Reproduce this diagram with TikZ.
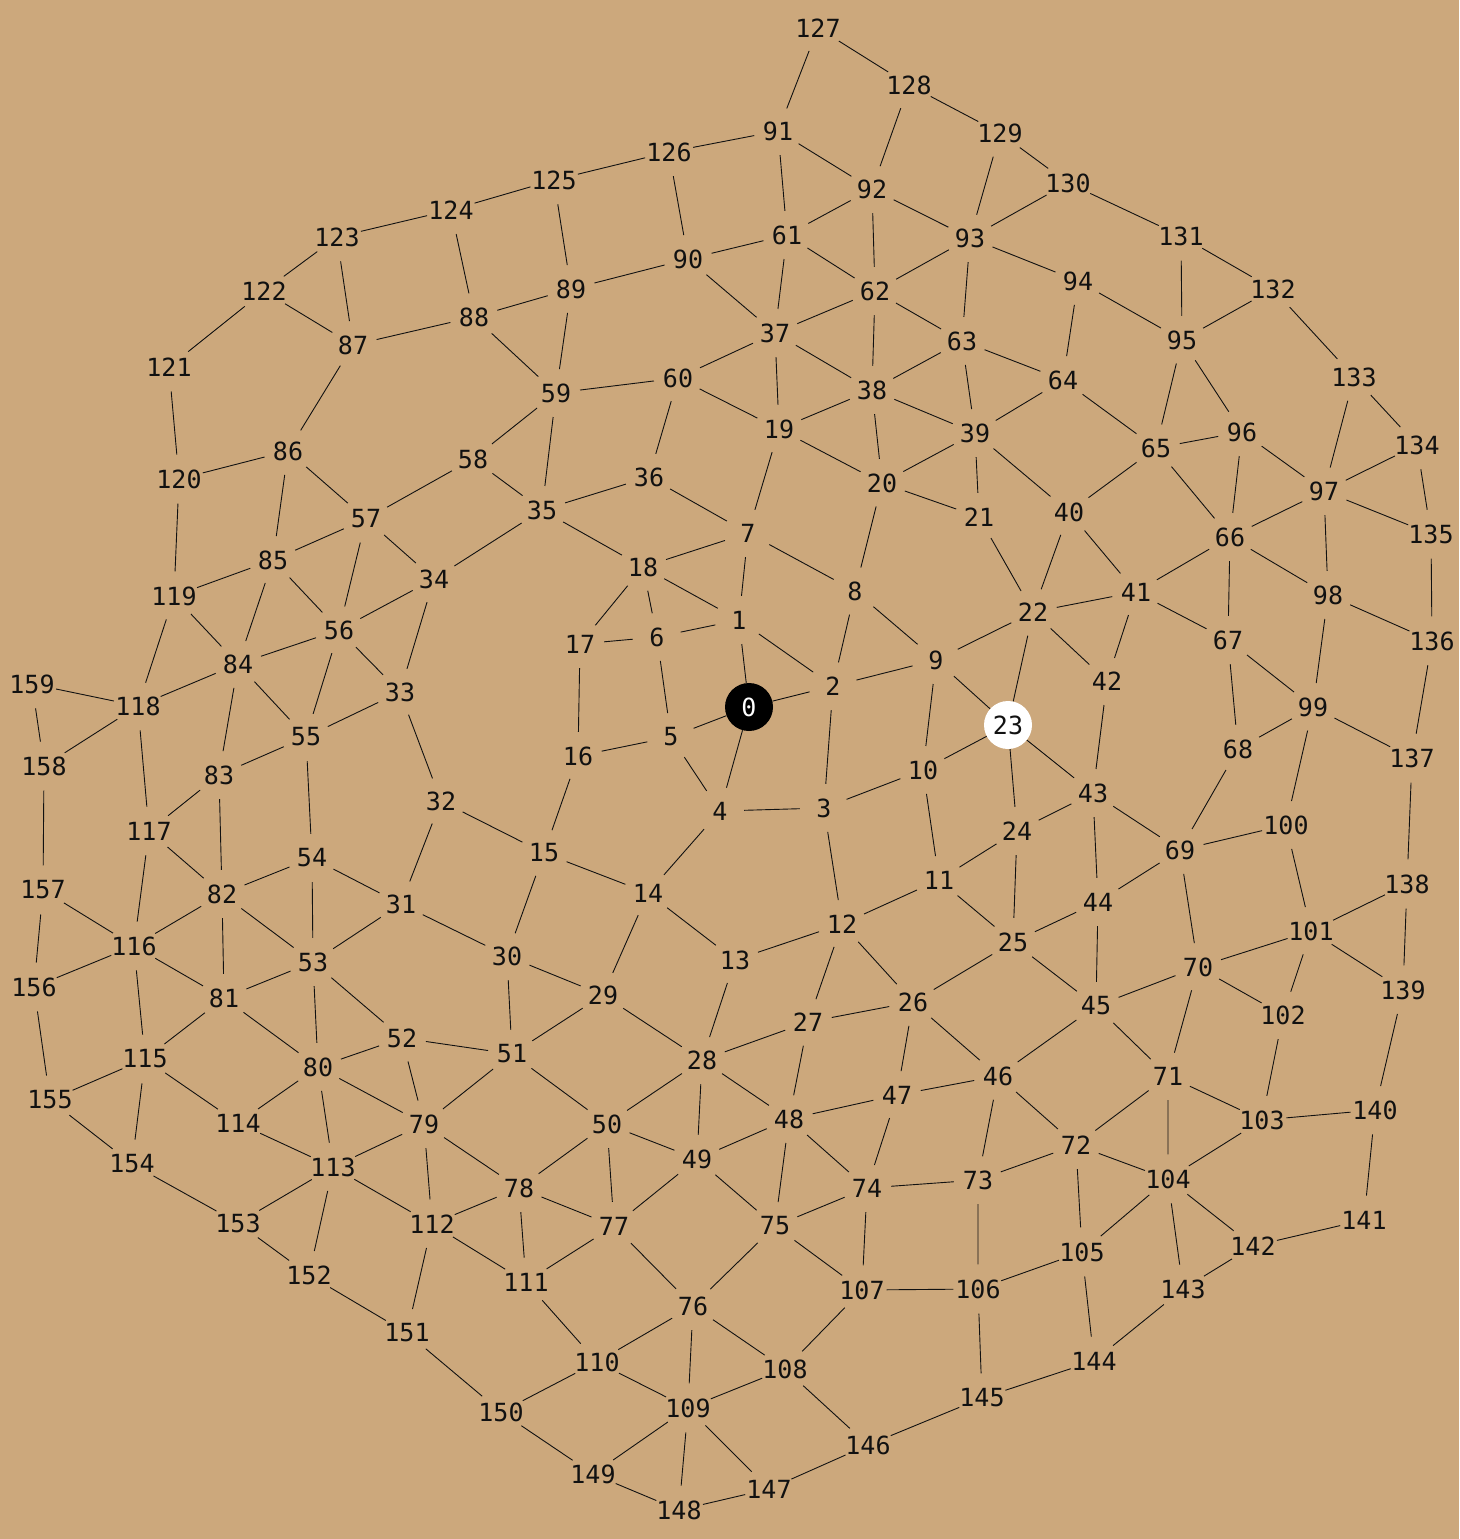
\documentclass[tikz,border=0pt]{standalone}
\usepackage{fontspec}
\usepackage{xcolor}
\usepackage{tikz}
\newfontfamily\vtxfont{DejaVu Sans Mono}
\definecolor{Tan}{HTML}{CCA87C}
\definecolor{Ink}{HTML}{111111}
\tikzset{
  vtx/.style={
    circle, minimum size=48pt, inner sep=0pt,
    text=Ink, font=\vtxfont\fontsize{25}{25}\selectfont
  },
  vtxStart/.style={vtx,fill=black,text=white},
  vtxGoal/.style={vtx,fill=white},
  link/.style={line width=.9pt,draw=Ink}
}

\begin{document}
\begin{tikzpicture}[x=1pt,y=-1pt]
  \fill[Tan] (0,0) rectangle (1459,1539);
  \useasboundingbox (0,0) rectangle (1459,1539);
  % vertices
  \node[vtxStart] (n0) at (749,707) {0};
  \node[vtx] (n1) at (739,620) {1};
  \node[vtx] (n2) at (833,686) {2};
  \node[vtx] (n3) at (824,808) {3};
  \node[vtx] (n4) at (720,811) {4};
  \node[vtx] (n5) at (671,737) {5};
  \node[vtx] (n6) at (657,637) {6};
  \node[vtx] (n7) at (748,533) {7};
  \node[vtx] (n8) at (855,591) {8};
  \node[vtx] (n9) at (936,660) {9};
  \node[vtx] (n10) at (923,770) {10};
  \node[vtx] (n11) at (939,880) {11};
  \node[vtx] (n12) at (842,924) {12};
  \node[vtx] (n13) at (735,960) {13};
  \node[vtx] (n14) at (648,893) {14};
  \node[vtx] (n15) at (544,853) {15};
  \node[vtx] (n16) at (578,756) {16};
  \node[vtx] (n17) at (580,644) {17};
  \node[vtx] (n18) at (643,567) {18};
  \node[vtx] (n19) at (779,429) {19};
  \node[vtx] (n20) at (882,483) {20};
  \node[vtx] (n21) at (979,517) {21};
  \node[vtx] (n22) at (1033,612) {22};
  \node[vtxGoal] (n23) at (1008,725) {23};
  \node[vtx] (n24) at (1017,831) {24};
  \node[vtx] (n25) at (1013,942) {25};
  \node[vtx] (n26) at (913,1002) {26};
  \node[vtx] (n27) at (808,1022) {27};
  \node[vtx] (n28) at (702,1060) {28};
  \node[vtx] (n29) at (603,995) {29};
  \node[vtx] (n30) at (507,956) {30};
  \node[vtx] (n31) at (401,904) {31};
  \node[vtx] (n32) at (441,801) {32};
  \node[vtx] (n33) at (400,692) {33};
  \node[vtx] (n34) at (434,579) {34};
  \node[vtx] (n35) at (542,510) {35};
  \node[vtx] (n36) at (649,477) {36};
  \node[vtx] (n37) at (775,333) {37};
  \node[vtx] (n38) at (872,390) {38};
  \node[vtx] (n39) at (975,433) {39};
  \node[vtx] (n40) at (1069,512) {40};
  \node[vtx] (n41) at (1136,592) {41};
  \node[vtx] (n42) at (1107,681) {42};
  \node[vtx] (n43) at (1093,793) {43};
  \node[vtx] (n44) at (1098,902) {44};
  \node[vtx] (n45) at (1096,1006) {45};
  \node[vtx] (n46) at (998,1076) {46};
  \node[vtx] (n47) at (897,1095) {47};
  \node[vtx] (n48) at (789,1119) {48};
  \node[vtx] (n49) at (697,1159) {49};
  \node[vtx] (n50) at (607,1124) {50};
  \node[vtx] (n51) at (512,1054) {51};
  \node[vtx] (n52) at (402,1038) {52};
  \node[vtx] (n53) at (313,962) {53};
  \node[vtx] (n54) at (312,858) {54};
  \node[vtx] (n55) at (306,737) {55};
  \node[vtx] (n56) at (339,630) {56};
  \node[vtx] (n57) at (366,519) {57};
  \node[vtx] (n58) at (473,459) {58};
  \node[vtx] (n59) at (556,393) {59};
  \node[vtx] (n60) at (678,378) {60};
  \node[vtx] (n61) at (787,235) {61};
  \node[vtx] (n62) at (875,291) {62};
  \node[vtx] (n63) at (962,341) {63};
  \node[vtx] (n64) at (1063,380) {64};
  \node[vtx] (n65) at (1156,448) {65};
  \node[vtx] (n66) at (1230,537) {66};
  \node[vtx] (n67) at (1228,640) {67};
  \node[vtx] (n68) at (1238,749) {68};
  \node[vtx] (n69) at (1180,850) {69};
  \node[vtx] (n70) at (1198,967) {70};
  \node[vtx] (n71) at (1168,1076) {71};
  \node[vtx] (n72) at (1076,1145) {72};
  \node[vtx] (n73) at (978,1180) {73};
  \node[vtx] (n74) at (867,1188) {74};
  \node[vtx] (n75) at (775,1226) {75};
  \node[vtx] (n76) at (693,1306) {76};
  \node[vtx] (n77) at (614,1226) {77};
  \node[vtx] (n78) at (519,1188) {78};
  \node[vtx] (n79) at (424,1124) {79};
  \node[vtx] (n80) at (318,1067) {80};
  \node[vtx] (n81) at (224,998) {81};
  \node[vtx] (n82) at (222,894) {82};
  \node[vtx] (n83) at (219,775) {83};
  \node[vtx] (n84) at (238,664) {84};
  \node[vtx] (n85) at (273,560) {85};
  \node[vtx] (n86) at (288,451) {86};
  \node[vtx] (n87) at (353,345) {87};
  \node[vtx] (n88) at (474,317) {88};
  \node[vtx] (n89) at (571,289) {89};
  \node[vtx] (n90) at (688,259) {90};
  \node[vtx] (n91) at (778,131) {91};
  \node[vtx] (n92) at (872,189) {92};
  \node[vtx] (n93) at (970,238) {93};
  \node[vtx] (n94) at (1078,281) {94};
  \node[vtx] (n95) at (1182,340) {95};
  \node[vtx] (n96) at (1242,432) {96};
  \node[vtx] (n97) at (1324,491) {97};
  \node[vtx] (n98) at (1328,595) {98};
  \node[vtx] (n99) at (1313,707) {99};
  \node[vtx] (n100) at (1286,825) {100};
  \node[vtx] (n101) at (1311,931) {101};
  \node[vtx] (n102) at (1283,1015) {102};
  \node[vtx] (n103) at (1262,1120) {103};
  \node[vtx] (n104) at (1168,1179) {104};
  \node[vtx] (n105) at (1082,1252) {105};
  \node[vtx] (n106) at (978,1289) {106};
  \node[vtx] (n107) at (862,1290) {107};
  \node[vtx] (n108) at (785,1369) {108};
  \node[vtx] (n109) at (688,1408) {109};
  \node[vtx] (n110) at (597,1362) {110};
  \node[vtx] (n111) at (526,1282) {111};
  \node[vtx] (n112) at (432,1224) {112};
  \node[vtx] (n113) at (333,1167) {113};
  \node[vtx] (n114) at (238,1123) {114};
  \node[vtx] (n115) at (145,1059) {115};
  \node[vtx] (n116) at (134,946) {116};
  \node[vtx] (n117) at (149,831) {117};
  \node[vtx] (n118) at (138,706) {118};
  \node[vtx] (n119) at (174,596) {119};
  \node[vtx] (n120) at (179,479) {120};
  \node[vtx] (n121) at (169,367) {121};
  \node[vtx] (n122) at (264,291) {122};
  \node[vtx] (n123) at (337,237) {123};
  \node[vtx] (n124) at (451,210) {124};
  \node[vtx] (n125) at (554,180) {125};
  \node[vtx] (n126) at (669,152) {126};
  \node[vtx] (n127) at (818,28) {127};
  \node[vtx] (n128) at (909,85) {128};
  \node[vtx] (n129) at (1000,133) {129};
  \node[vtx] (n130) at (1068,183) {130};
  \node[vtx] (n131) at (1181,236) {131};
  \node[vtx] (n132) at (1273,289) {132};
  \node[vtx] (n133) at (1354,377) {133};
  \node[vtx] (n134) at (1417,445) {134};
  \node[vtx] (n135) at (1431,534) {135};
  \node[vtx] (n136) at (1432,641) {136};
  \node[vtx] (n137) at (1412,758) {137};
  \node[vtx] (n138) at (1407,884) {138};
  \node[vtx] (n139) at (1403,990) {139};
  \node[vtx] (n140) at (1375,1110) {140};
  \node[vtx] (n141) at (1364,1220) {141};
  \node[vtx] (n142) at (1253,1246) {142};
  \node[vtx] (n143) at (1183,1289) {143};
  \node[vtx] (n144) at (1094,1361) {144};
  \node[vtx] (n145) at (982,1398) {145};
  \node[vtx] (n146) at (868,1445) {146};
  \node[vtx] (n147) at (769,1489) {147};
  \node[vtx] (n148) at (679,1510) {148};
  \node[vtx] (n149) at (593,1474) {149};
  \node[vtx] (n150) at (501,1412) {150};
  \node[vtx] (n151) at (407,1333) {151};
  \node[vtx] (n152) at (309,1275) {152};
  \node[vtx] (n153) at (238,1223) {153};
  \node[vtx] (n154) at (132,1164) {154};
  \node[vtx] (n155) at (50,1100) {155};
  \node[vtx] (n156) at (34,987) {156};
  \node[vtx] (n157) at (43,890) {157};
  \node[vtx] (n158) at (44,766) {158};
  \node[vtx] (n159) at (32,684) {159};
  % edges
  \draw[link] (n0)--(n1) (n0)--(n2) (n0)--(n4) (n0)--(n5);
  \draw[link] (n1)--(n2) (n1)--(n6) (n1)--(n7) (n1)--(n18);
  \draw[link] (n2)--(n3) (n2)--(n8) (n2)--(n9);
  \draw[link] (n3)--(n4) (n3)--(n10) (n3)--(n12);
  \draw[link] (n4)--(n5) (n4)--(n14);
  \draw[link] (n5)--(n6) (n5)--(n16);
  \draw[link] (n6)--(n17) (n6)--(n18);
  \draw[link] (n7)--(n8) (n7)--(n18) (n7)--(n19) (n7)--(n36);
  \draw[link] (n8)--(n9) (n8)--(n20);
  \draw[link] (n9)--(n10) (n9)--(n22) (n9)--(n23);
  \draw[link] (n10)--(n11) (n10)--(n23);
  \draw[link] (n11)--(n12) (n11)--(n24) (n11)--(n25);
  \draw[link] (n12)--(n13) (n12)--(n26) (n12)--(n27);
  \draw[link] (n13)--(n14) (n13)--(n28);
  \draw[link] (n14)--(n15) (n14)--(n29);
  \draw[link] (n15)--(n16) (n15)--(n30) (n15)--(n32);
  \draw[link] (n16)--(n17) (n17)--(n18) (n18)--(n35);
  \draw[link] (n19)--(n20) (n19)--(n37) (n19)--(n38) (n19)--(n60);
  \draw[link] (n20)--(n21) (n20)--(n38) (n20)--(n39);
  \draw[link] (n21)--(n22) (n21)--(n39);
  \draw[link] (n22)--(n23) (n22)--(n40) (n22)--(n41) (n22)--(n42);
  \draw[link] (n23)--(n24) (n23)--(n43);
  \draw[link] (n24)--(n25) (n24)--(n43);
  \draw[link] (n25)--(n26) (n25)--(n44) (n25)--(n45);
  \draw[link] (n26)--(n27) (n26)--(n46) (n26)--(n47);
  \draw[link] (n27)--(n28) (n27)--(n48);
  \draw[link] (n28)--(n29) (n28)--(n48) (n28)--(n49) (n28)--(n50);
  \draw[link] (n29)--(n30) (n29)--(n51);
  \draw[link] (n30)--(n31) (n30)--(n51);
  \draw[link] (n31)--(n32) (n31)--(n53) (n31)--(n54);
  \draw[link] (n32)--(n33);
  \draw[link] (n33)--(n34) (n33)--(n55) (n33)--(n56);
  \draw[link] (n34)--(n35) (n34)--(n56) (n34)--(n57);
  \draw[link] (n35)--(n36) (n35)--(n58) (n35)--(n59);
  \draw[link] (n36)--(n60);
  \draw[link] (n37)--(n38) (n37)--(n60) (n37)--(n61) (n37)--(n62) (n37)--(n90);
  \draw[link] (n38)--(n39) (n38)--(n62) (n38)--(n63);
  \draw[link] (n39)--(n40) (n39)--(n63) (n39)--(n64);
  \draw[link] (n40)--(n41) (n40)--(n65);
  \draw[link] (n41)--(n42) (n41)--(n66) (n41)--(n67);
  \draw[link] (n42)--(n43);
  \draw[link] (n43)--(n44) (n43)--(n69);
  \draw[link] (n44)--(n45) (n44)--(n69);
  \draw[link] (n45)--(n46) (n45)--(n70) (n45)--(n71);
  \draw[link] (n46)--(n47) (n46)--(n72) (n46)--(n73);
  \draw[link] (n47)--(n48) (n47)--(n74);
  \draw[link] (n48)--(n49) (n48)--(n74) (n48)--(n75);
  \draw[link] (n49)--(n50) (n49)--(n75) (n49)--(n77);
  \draw[link] (n50)--(n51) (n50)--(n77) (n50)--(n78);
  \draw[link] (n51)--(n52) (n51)--(n79);
  \draw[link] (n52)--(n53) (n52)--(n79) (n52)--(n80);
  \draw[link] (n53)--(n54) (n53)--(n80) (n53)--(n81) (n53)--(n82);
  \draw[link] (n54)--(n55) (n54)--(n82);
  \draw[link] (n55)--(n56) (n55)--(n83) (n55)--(n84);
  \draw[link] (n56)--(n57) (n56)--(n84) (n56)--(n85);
  \draw[link] (n57)--(n58) (n57)--(n85) (n57)--(n86);
  \draw[link] (n58)--(n59);
  \draw[link] (n59)--(n60) (n59)--(n88) (n59)--(n89);
  \draw[link] (n61)--(n62) (n61)--(n90) (n61)--(n91) (n61)--(n92);
  \draw[link] (n62)--(n63) (n62)--(n92) (n62)--(n93);
  \draw[link] (n63)--(n64) (n63)--(n93);
  \draw[link] (n64)--(n65) (n64)--(n94);
  \draw[link] (n65)--(n66) (n65)--(n95) (n65)--(n96);
  \draw[link] (n66)--(n67) (n66)--(n96) (n66)--(n97) (n66)--(n98);
  \draw[link] (n67)--(n68) (n67)--(n99);
  \draw[link] (n68)--(n69) (n68)--(n99);
  \draw[link] (n69)--(n70) (n69)--(n100);
  \draw[link] (n70)--(n71) (n70)--(n101) (n70)--(n102);
  \draw[link] (n71)--(n72) (n71)--(n103) (n71)--(n104);
  \draw[link] (n72)--(n73) (n72)--(n104) (n72)--(n105);
  \draw[link] (n73)--(n74) (n73)--(n106);
  \draw[link] (n74)--(n75) (n74)--(n107);
  \draw[link] (n75)--(n76) (n75)--(n107);
  \draw[link] (n76)--(n77) (n76)--(n108) (n76)--(n109) (n76)--(n110);
  \draw[link] (n77)--(n78) (n77)--(n111);
  \draw[link] (n78)--(n79) (n78)--(n111) (n78)--(n112);
  \draw[link] (n79)--(n80) (n79)--(n112) (n79)--(n113);
  \draw[link] (n80)--(n81) (n80)--(n113) (n80)--(n114);
  \draw[link] (n81)--(n82) (n81)--(n115) (n81)--(n116);
  \draw[link] (n82)--(n83) (n82)--(n116) (n82)--(n117);
  \draw[link] (n83)--(n84) (n83)--(n117);
  \draw[link] (n84)--(n85) (n84)--(n118) (n84)--(n119);
  \draw[link] (n85)--(n86) (n85)--(n119);
  \draw[link] (n86)--(n87) (n86)--(n120);
  \draw[link] (n87)--(n88) (n87)--(n122) (n87)--(n123);
  \draw[link] (n88)--(n89) (n88)--(n124);
  \draw[link] (n89)--(n90) (n89)--(n125);
  \draw[link] (n90)--(n126);
  \draw[link] (n91)--(n92) (n91)--(n126) (n91)--(n127);
  \draw[link] (n92)--(n93) (n92)--(n128);
  \draw[link] (n93)--(n94) (n93)--(n129) (n93)--(n130);
  \draw[link] (n94)--(n95);
  \draw[link] (n95)--(n96) (n95)--(n131) (n95)--(n132);
  \draw[link] (n96)--(n97);
  \draw[link] (n97)--(n98) (n97)--(n133) (n97)--(n134) (n97)--(n135);
  \draw[link] (n98)--(n99) (n98)--(n136);
  \draw[link] (n99)--(n100) (n99)--(n137);
  \draw[link] (n100)--(n101);
  \draw[link] (n101)--(n102) (n101)--(n138) (n101)--(n139);
  \draw[link] (n102)--(n103);
  \draw[link] (n103)--(n104) (n103)--(n140);
  \draw[link] (n104)--(n105) (n104)--(n142) (n104)--(n143);
  \draw[link] (n105)--(n106) (n105)--(n144);
  \draw[link] (n106)--(n107) (n106)--(n145);
  \draw[link] (n107)--(n108);
  \draw[link] (n108)--(n109) (n108)--(n146);
  \draw[link] (n109)--(n110) (n109)--(n147) (n109)--(n148) (n109)--(n149);
  \draw[link] (n110)--(n111) (n110)--(n150);
  \draw[link] (n111)--(n112);
  \draw[link] (n112)--(n113) (n112)--(n151);
  \draw[link] (n113)--(n114) (n113)--(n152) (n113)--(n153);
  \draw[link] (n114)--(n115);
  \draw[link] (n115)--(n116) (n115)--(n154) (n115)--(n155);
  \draw[link] (n116)--(n117) (n116)--(n156) (n116)--(n157);
  \draw[link] (n117)--(n118);
  \draw[link] (n118)--(n119) (n118)--(n158) (n118)--(n159);
  \draw[link] (n119)--(n120) (n120)--(n121) (n121)--(n122) (n122)--(n123);
  \draw[link] (n123)--(n124) (n124)--(n125) (n125)--(n126);
  \draw[link] (n127)--(n128) (n128)--(n129) (n129)--(n130) (n130)--(n131);
  \draw[link] (n131)--(n132) (n132)--(n133) (n133)--(n134) (n134)--(n135);
  \draw[link] (n135)--(n136) (n136)--(n137) (n137)--(n138) (n138)--(n139);
  \draw[link] (n139)--(n140) (n140)--(n141) (n141)--(n142) (n142)--(n143);
  \draw[link] (n143)--(n144) (n144)--(n145) (n145)--(n146) (n146)--(n147);
  \draw[link] (n147)--(n148) (n148)--(n149) (n149)--(n150) (n150)--(n151);
  \draw[link] (n151)--(n152) (n152)--(n153) (n153)--(n154) (n154)--(n155);
  \draw[link] (n155)--(n156) (n156)--(n157) (n157)--(n158) (n158)--(n159);
\end{tikzpicture}
\end{document}
